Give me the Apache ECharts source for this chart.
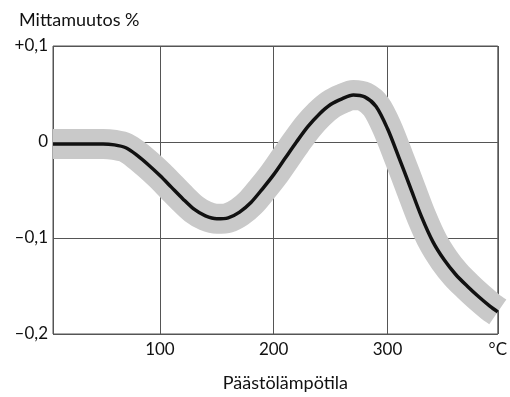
<!DOCTYPE html>
<html>
<head>
<meta charset="utf-8">
<script src="https://cdn.jsdelivr.net/npm/echarts@6/dist/echarts.min.js"></script>
<style>
  html, body { margin: 0; padding: 0; background: #fff; }
  #chart { width: 510px; height: 397px; }
</style>
</head>
<body>
<div id="chart"></div>
<script>
// emission temperature (°C) vs. measured change (%)
const temps = [6, 20, 30, 40, 50, 60, 70, 80, 90, 100, 110, 120, 130, 140, 150, 160, 170, 180, 190, 200,
  210, 220, 230, 240, 250, 260, 270, 280, 290, 300, 310, 320, 330, 340, 350, 360, 370, 380, 390, 397];
const change = [-0.002, -0.002, -0.002, -0.002, -0.002, -0.003, -0.006, -0.014, -0.024, -0.035,
  -0.047, -0.059, -0.07, -0.077, -0.08, -0.079, -0.073, -0.063, -0.049, -0.034,
  -0.017, 0, 0.016, 0.029, 0.039, 0.045, 0.049, 0.047, 0.037, 0.014,
  -0.016, -0.047, -0.078, -0.104, -0.123, -0.138, -0.15, -0.161, -0.171, -0.177];
const xMin = 6;
const xMax = 397;
const yTicks = { "0.1": "+0,1", "0": "0", "-0.1": "\u20130,1", "-0.2": "\u20130,2" };

const points = temps.map((t, i) => [t, change[i]]);
const font = "Lato";

const chart = echarts.init(document.getElementById("chart"));
chart.setOption({
  animation: false,
  textStyle: { fontFamily: font },
  title: {
    text: "Mittamuutos %",
    left: 14,
    top: 6,
    textStyle: { fontFamily: font, fontSize: 18, fontWeight: "normal", color: "#111" }
  },
  grid: { left: 53, right: 3, top: 46, bottom: 62, show: true, borderColor: "#555", borderWidth: 1 },
  xAxis: {
    type: "value",
    min: xMin,
    max: xMax,
    name: "Päästölämpötila",
    nameLocation: "middle",
    nameGap: 40,
    nameTextStyle: { fontSize: 18, color: "#111", padding: [0, 0, 0, 20] },
    axisLine: { show: false },
    axisTick: { show: false },
    axisLabel: {
      fontSize: 17,
      color: "#111",
      margin: 7,
      formatter: v => (v === xMax ? "°C" : v === xMin ? "" : String(v))
    },
    splitLine: { lineStyle: { color: "#555", width: 1 } }
  },
  yAxis: {
    type: "value",
    min: -0.2,
    max: 0.1,
    interval: 0.1,
    axisLine: { show: false },
    axisTick: { show: false },
    axisLabel: {
      fontSize: 17,
      color: "#111",
      margin: 5,
      formatter: v => yTicks[String(Math.round(v * 10) / 10)] || ""
    },
    splitLine: { lineStyle: { color: "#555", width: 1 } }
  },
  series: [
    {
      type: "line",
      data: points,
      smooth: 0.3,
      showSymbol: false,
      lineStyle: { color: "#c9c9c9", width: 30, cap: "butt", join: "round" },
      z: 2
    },
    {
      type: "line",
      data: points,
      smooth: 0.3,
      showSymbol: false,
      lineStyle: { color: "#111", width: 3.5, join: "round" },
      z: 3
    }
  ]
});
</script>
</body>
</html>
